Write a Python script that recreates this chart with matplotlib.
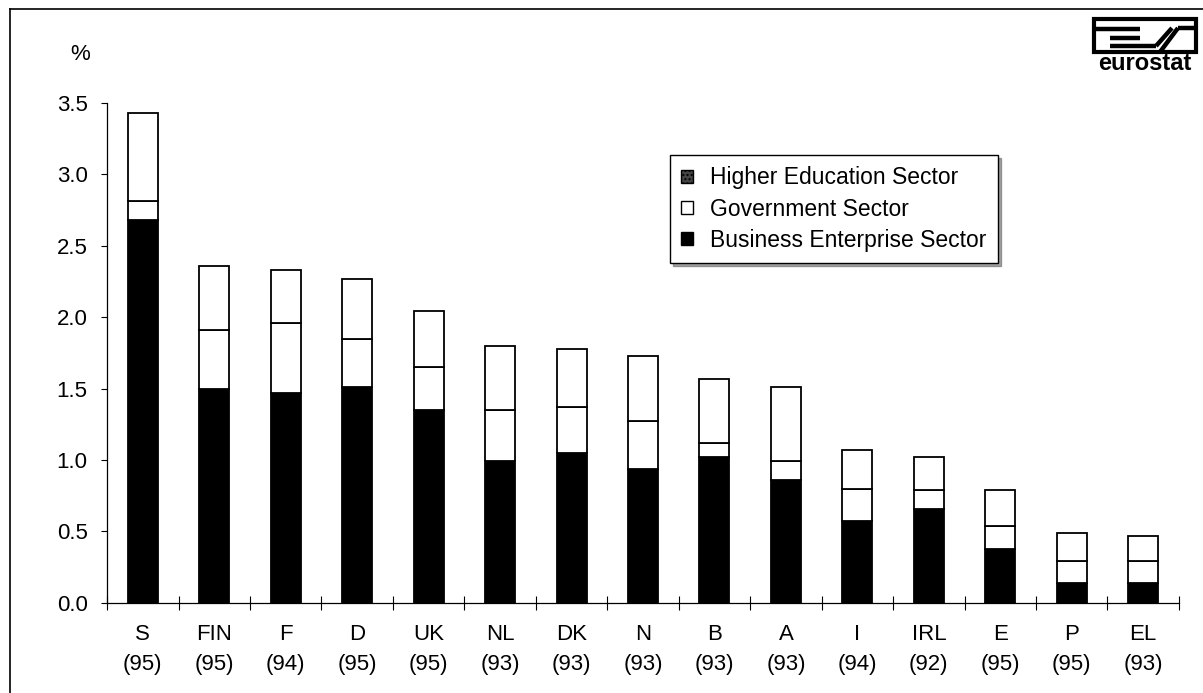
import numpy as np
import matplotlib
matplotlib.use("Agg")
import matplotlib.pyplot as plt
from matplotlib.patches import Patch, Rectangle
from matplotlib.lines import Line2D

plt.rcParams["font.family"] = ["Liberation Sans", "DejaVu Sans"]

countries = ["S", "FIN", "F", "D", "UK", "NL", "DK", "N", "B", "A", "I", "IRL", "E", "P", "EL"]
years     = ["95", "95", "94", "95", "95", "93", "93", "93", "93", "93", "94", "92", "95", "95", "93"]
business   = [2.68, 1.50, 1.47, 1.51, 1.35, 0.99, 1.05, 0.94, 1.02, 0.86, 0.57, 0.66, 0.38, 0.14, 0.14]
government = [0.13, 0.41, 0.49, 0.34, 0.30, 0.36, 0.32, 0.33, 0.10, 0.13, 0.23, 0.13, 0.16, 0.15, 0.15]
higher_ed  = [0.62, 0.45, 0.37, 0.42, 0.39, 0.45, 0.41, 0.46, 0.45, 0.52, 0.27, 0.23, 0.25, 0.20, 0.18]

x = np.arange(len(countries))
biz = np.array(business)
gov = np.array(government)
he = np.array(higher_ed)

fig = plt.figure(figsize=(12.03, 6.93), dpi=100)
ax = fig.add_axes([0.089, 0.130, 0.891, 0.7215])

w = 0.42
ax.bar(x, biz, w, color="black", edgecolor="black", linewidth=1.3)
ax.bar(x, gov, w, bottom=biz, color="white", edgecolor="black", linewidth=1.3)
ax.bar(x, he, w, bottom=biz + gov, color="white", edgecolor="black", linewidth=1.3)

ax.set_xlim(-0.5, len(countries) - 0.5)
ax.set_ylim(0, 3.5)
yt = np.arange(0, 3.51, 0.5)
ax.set_yticks(yt)
ax.set_yticklabels([f"{v:.1f}" for v in yt], fontsize=16)
ax.tick_params(axis="y", length=4, width=0.8, pad=10)

ax.set_xticks(x)
ax.set_xticklabels([f"{c}\n({y})" for c, y in zip(countries, years)],
                   fontsize=16, linespacing=1.6)
ax.tick_params(axis="x", length=0, pad=15)
ax.set_xticks(np.arange(-0.5, len(countries), 1.0), minor=True)
ax.tick_params(axis="x", which="minor", direction="inout", length=10, width=0.8)

for s in ["top", "right"]:
    ax.spines[s].set_visible(False)
ax.spines["left"].set_linewidth(0.9)
ax.spines["bottom"].set_linewidth(0.9)

fig.text(80 / 1203, 1 - 55 / 693, "%", fontsize=16, ha="center", va="center")

handles = [
    Patch(facecolor="#444444", edgecolor="black", hatch="....", label="Higher Education Sector"),
    Patch(facecolor="white", edgecolor="black", label="Government Sector"),
    Patch(facecolor="black", edgecolor="black", label="Business Enterprise Sector"),
]
leg = ax.legend(handles=handles, loc="upper left", bbox_to_anchor=(0.525, 0.896),
                fontsize=16.5, frameon=True, fancybox=False, shadow=True,
                handlelength=0.5, handleheight=0.5, handletextpad=0.75,
                labelspacing=0.36, borderpad=0.5, borderaxespad=0)
leg.get_frame().set_edgecolor("black")
leg.get_frame().set_linewidth(1.0)


def fx(px):
    return px / 1203


def fy(py):
    return 1 - py / 693


# figure frame
fig.add_artist(Line2D([fx(10), fx(10)], [0, fy(9)], color="black", lw=1.2))
fig.add_artist(Line2D([fx(10), 1], [fy(9), fy(9)], color="black", lw=1.2))

# eurostat logo
top, bot = 19, 52
fig.add_artist(Rectangle((fx(1094), fy(bot)), fx(1196) - fx(1094), fy(top) - fy(bot),
                         transform=fig.transFigure, facecolor="white", edgecolor="black", lw=3))
logo_lines = [
    ((1094, 29), (1140, 29)),
    ((1110, 38), (1140, 38)),
    ((1110, 46), (1156, 46)),
    ((1156, 46), (1172, 28)),
    ((1160, 52), (1178, 28)),
    ((1178, 28), (1196, 28)),
]
for (x0, y0), (x1, y1) in logo_lines:
    fig.add_artist(Line2D([fx(x0), fx(x1)], [fy(y0), fy(y1)], color="black", lw=3.2,
                          solid_capstyle="butt"))
fig.text(fx(1145), fy(63), "eurostat", fontsize=17, fontweight="bold",
         ha="center", va="center")

fig.savefig("out.png", dpi=100)
